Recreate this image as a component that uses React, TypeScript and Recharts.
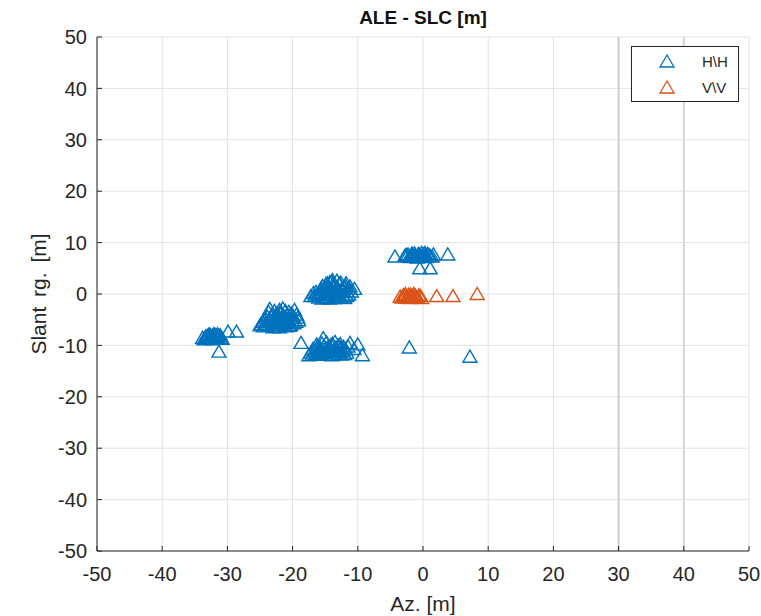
import {
  CartesianGrid,
  Label,
  Legend,
  ReferenceLine,
  Scatter,
  ScatterChart,
  XAxis,
  YAxis,
} from "recharts";

const AXIS_TICKS = [-50, -40, -30, -20, -10, 0, 10, 20, 30, 40, 50];
const SERIES_NAMES = ["H\\H", "V\\V"];
const SERIES_COLORS = ["#0072BD", "#D95319"];

// H\H points [az, slant], grouped by cluster
const hhLeft: [number, number][] = [
  [-33.8, -8.6], [-33.3, -8.3], [-32.9, -8.8], [-32.6, -8.1], [-32.2, -8.5], [-31.9, -8.0],
  [-31.6, -8.7], [-31.3, -8.3], [-31.0, -8.6], [-32.4, -8.9], [-33.0, -8.2], [-31.8, -8.4],
  [-32.1, -7.9], [-30.8, -8.8], [-33.6, -8.9], [-33.1, -8.5], [-32.7, -8.4], [-32.3, -8.2],
  [-32.0, -8.8], [-31.7, -8.2], [-31.4, -8.8], [-31.1, -8.1], [-32.8, -7.9], [-33.4, -8.7],
  [-31.5, -7.9], [-32.5, -8.6], [-29.9, -7.4], [-28.6, -7.4], [-31.3, -11.3],
];
const hhMid: [number, number][] = [
  [-25.0, -6.2], [-24.6, -5.5], [-24.2, -4.8], [-23.8, -6.3], [-23.5, -3.0], [-23.2, -4.2],
  [-23.0, -5.6], [-22.7, -6.5], [-22.4, -3.8], [-22.1, -5.0], [-21.8, -6.0], [-21.5, -2.9],
  [-21.2, -4.5], [-20.9, -5.4], [-20.6, -3.6], [-20.3, -6.1], [-20.0, -4.8], [-19.7, -3.2],
  [-19.4, -4.1], [-19.1, -5.2], [-22.9, -4.9], [-21.9, -4.0], [-21.0, -6.4], [-23.6, -5.0],
  [-20.4, -5.7], [-22.2, -6.4], [-24.0, -5.9], [-19.8, -5.8], [-24.8, -5.9], [-24.4, -5.2],
  [-24.1, -6.1], [-23.9, -4.5], [-23.7, -3.6], [-23.4, -5.3], [-23.1, -6.0], [-22.8, -3.4],
  [-22.6, -4.4], [-22.3, -5.4], [-22.0, -3.2], [-21.7, -4.7], [-21.4, -5.8], [-21.1, -3.4],
  [-20.8, -4.2], [-20.5, -6.3], [-20.2, -3.9], [-19.9, -4.4], [-19.5, -5.5], [-19.2, -4.7],
  [-23.3, -4.6], [-22.5, -5.8], [-21.6, -5.2], [-20.7, -4.9], [-21.3, -6.1], [-22.0, -6.6],
  [-23.0, -6.6], [-24.5, -6.4], [-20.1, -5.2], [-21.9, -3.6],
];
const hhUpper: [number, number][] = [
  [-17.2, -0.5], [-16.4, 0.3], [-16.0, -0.8], [-15.6, 1.0], [-15.2, -0.3], [-14.9, 1.8],
  [-14.6, 0.5], [-14.3, -1.0], [-14.0, 2.3], [-13.7, 1.2], [-13.4, -0.5], [-13.1, 0.2],
  [-12.8, 1.9], [-12.5, 0.8], [-12.2, -0.6], [-11.9, 1.6], [-11.6, 0.3], [-11.2, 1.4],
  [-10.5, 0.9], [-15.5, -1.0], [-13.9, 0.6], [-14.8, -0.8], [-12.0, -0.9], [-13.2, 2.5],
  [-16.6, -0.5], [-11.4, -0.2], [-16.8, 0.1], [-16.2, -0.2], [-15.8, 0.6], [-15.4, 1.5],
  [-15.0, 0.2], [-14.7, 2.0], [-14.4, 1.0], [-14.1, 0.0], [-13.8, 1.8], [-13.5, 0.4],
  [-13.2, 1.3], [-12.9, -0.2], [-12.6, 2.1], [-12.3, 0.5], [-12.0, 1.2], [-11.7, -0.5],
  [-11.5, 0.9], [-11.0, 0.4], [-14.6, -0.3], [-13.6, -0.9], [-15.1, -0.7], [-12.7, -0.8],
  [-13.9, 2.6], [-14.3, 2.2], [-11.8, 2.0], [-15.9, -0.1], [-13.0, 0.7], [-14.9, 1.1],
];
const hhLower: [number, number][] = [
  [-18.7, -9.6], [-17.2, -11.5], [-16.9, -10.8], [-16.5, -11.8], [-16.2, -10.3], [-15.9, -11.2],
  [-15.5, -9.7], [-15.3, -8.7], [-15.0, -11.6], [-14.7, -10.6], [-14.4, -11.9], [-14.1, -10.0],
  [-13.8, -11.3], [-13.5, -9.4], [-13.2, -10.9], [-12.9, -11.7], [-12.6, -10.5], [-12.3, -11.2],
  [-11.9, -10.8], [-11.2, -9.6], [-10.0, -9.9], [-9.3, -12.0], [-16.0, -11.9], [-14.0, -12.0],
  [-12.0, -11.8], [-17.5, -12.0], [-13.0, -10.1], [-17.0, -11.9], [-16.7, -11.2], [-16.4, -10.9],
  [-16.1, -11.5], [-15.8, -10.6], [-15.6, -11.9], [-15.2, -10.2], [-14.9, -10.9], [-14.6, -11.4],
  [-14.3, -10.4], [-14.0, -11.1], [-13.7, -11.9], [-13.4, -10.6], [-13.1, -11.4], [-12.8, -10.9],
  [-12.5, -11.9], [-12.2, -10.4], [-15.4, -11.2], [-14.8, -9.5], [-13.9, -9.8], [-16.3, -9.9],
  [-12.7, -9.8], [-11.7, -11.5], [-11.5, -10.3], [-10.6, -10.8],
];
const hhRight: [number, number][] = [
  [-4.3, 7.2], [-2.8, 7.3], [-2.3, 7.6], [-1.9, 7.1], [-1.5, 7.5], [-1.1, 7.2], [-0.7, 7.7],
  [-0.3, 7.3], [0.1, 7.6], [0.5, 7.1], [0.9, 7.5], [1.4, 7.2], [-1.3, 7.8], [0.3, 7.9],
  [-2.6, 7.5], [-2.1, 7.2], [-1.7, 7.8], [-1.2, 7.4], [-0.9, 7.0], [-0.5, 7.5], [-0.1, 7.2],
  [0.3, 7.4], [0.7, 7.7], [1.1, 7.3], [-1.8, 7.4], [-0.2, 7.9], [1.6, 7.6],
  [3.8, 7.6], [-0.5, 4.9], [1.1, 4.9], [-2.1, -10.5], [7.2, -12.3],
];

// V\V points [az, slant]
const vvPoints: [number, number][] = [
  [-3.5, -0.6], [-3.0, -0.3], [-2.6, -0.8], [-2.2, -0.2], [-1.8, -0.6], [-1.4, -0.1],
  [-1.0, -0.7], [-0.6, -0.3], [-0.2, -0.9], [-2.0, -0.9], [-1.2, -0.4], [-3.2, -0.8],
  [-2.8, -0.5], [-2.4, -0.6], [-1.6, -0.4], [-0.8, -0.8], [-0.4, -0.5], [-1.9, -0.2],
  [-2.7, -0.1], [2.1, -0.5], [4.6, -0.5], [8.3, -0.1],
];

const toRows = (pts: [number, number][]) => pts.map(([x, y]) => ({ x, y }));
const hhData = toRows([...hhLeft, ...hhMid, ...hhUpper, ...hhLower, ...hhRight]);
const vvData = toRows(vvPoints);

const FONT = "'Liberation Sans', Arial, sans-serif";
const TEXT = "#262626";
const AXIS = "#262626";

function triangle(color: string) {
  return (props: any) => {
    const { cx, cy } = props;
    if (cx == null || cy == null) return <g />;
    return (
      <path
        d={`M${cx},${cy - 7}L${cx - 7},${cy + 5}L${cx + 7},${cy + 5}Z`}
        fill="none"
        stroke={color}
        strokeWidth={1.4}
      />
    );
  };
}

function LegendBox() {
  return (
    <div
      style={{
        width: 106,
        height: 54,
        border: `1px solid ${AXIS}`,
        background: "#fff",
        fontFamily: FONT,
        fontSize: 15,
        color: TEXT,
        position: "relative",
      }}
    >
      {SERIES_NAMES.map((name, i) => (
        <div key={name} style={{ position: "absolute", top: 5 + i * 26, left: 0, width: 106, height: 20 }}>
          <svg width={20} height={20} style={{ position: "absolute", left: 25, top: 0 }}>
            <path d="M10,3L3,15L17,15Z" fill="none" stroke={SERIES_COLORS[i]} strokeWidth={1.3} />
          </svg>
          <span style={{ position: "absolute", left: 70, top: 1 }}>{name}</span>
        </div>
      ))}
    </div>
  );
}

export default function App() {
  const tickStyle = { fontSize: 20, fill: TEXT, fontFamily: FONT };
  return (
    <div style={{ position: "absolute", left: 0, top: 0, width: 761, height: 616, background: "#fff" }}>
      <div
        style={{
          position: "absolute",
          left: 97,
          top: 6,
          width: 652,
          textAlign: "center",
          fontFamily: FONT,
          fontWeight: "bold",
          fontSize: 19,
          lineHeight: "24px",
          color: "#111",
        }}
      >
        ALE - SLC [m]
      </div>
      <ScatterChart width={761} height={616} margin={{ top: 37, right: 12, bottom: 0, left: 0 }}>
        <CartesianGrid stroke="#e3e3e3" strokeWidth={1} />
        <ReferenceLine x={30} stroke="#cdcdcd" strokeWidth={2} />
        <ReferenceLine x={40} stroke="#d6d6d6" strokeWidth={2} />
        <XAxis
          type="number"
          dataKey="x"
          domain={[-50, 50]}
          ticks={AXIS_TICKS}
          interval={0}
          height={65}
          tickSize={-5}
          tickMargin={21}
          tickLine={{ stroke: AXIS }}
          axisLine={{ stroke: AXIS }}
          tick={tickStyle}
        >
          <Label
            content={(p: any) => (
              <text
                x={p.viewBox.x + p.viewBox.width / 2}
                y={p.viewBox.y + 60}
                textAnchor="middle"
                fontSize={21}
                fill={TEXT}
                fontFamily={FONT}
              >
                Az. [m]
              </text>
            )}
          />
        </XAxis>
        <XAxis
          xAxisId="top"
          orientation="top"
          type="number"
          domain={[-50, 50]}
          ticks={AXIS_TICKS}
          interval={0}
          height={0}
          tick={false}
          tickSize={-5}
          tickLine={{ stroke: AXIS }}
          axisLine={{ stroke: AXIS }}
        />
        <YAxis
          type="number"
          dataKey="y"
          domain={[-50, 50]}
          ticks={AXIS_TICKS}
          interval={0}
          width={97}
          tickSize={-5}
          tickMargin={15}
          tickLine={{ stroke: AXIS }}
          axisLine={{ stroke: AXIS }}
          tick={tickStyle}
        >
          <Label
            content={(p: any) => {
              const cx = 38;
              const cy = p.viewBox.y + p.viewBox.height / 2;
              return (
                <text
                  x={cx}
                  y={cy}
                  transform={`rotate(-90 ${cx} ${cy})`}
                  textAnchor="middle"
                  dominantBaseline="central"
                  fontSize={21}
                  fill={TEXT}
                  fontFamily={FONT}
                  wordSpacing={4}
                >
                  Slant rg. [m]
                </text>
              );
            }}
          />
        </YAxis>
        <YAxis
          yAxisId="right"
          orientation="right"
          type="number"
          domain={[-50, 50]}
          ticks={AXIS_TICKS}
          interval={0}
          width={0}
          tick={false}
          tickSize={-5}
          tickLine={{ stroke: AXIS }}
          axisLine={{ stroke: AXIS }}
        />
        <Legend
          layout="vertical"
          align="center"
          verticalAlign="middle"
          content={() => <LegendBox />}
          wrapperStyle={{ position: "absolute", left: 631, top: 46, width: 108, height: 56 }}
        />
        <Scatter
          name={SERIES_NAMES[0]}
          data={hhData}
          shape={triangle(SERIES_COLORS[0])}
          isAnimationActive={false}
        />
        <Scatter
          name={SERIES_NAMES[1]}
          data={vvData}
          shape={triangle(SERIES_COLORS[1])}
          isAnimationActive={false}
        />
      </ScatterChart>
    </div>
  );
}
